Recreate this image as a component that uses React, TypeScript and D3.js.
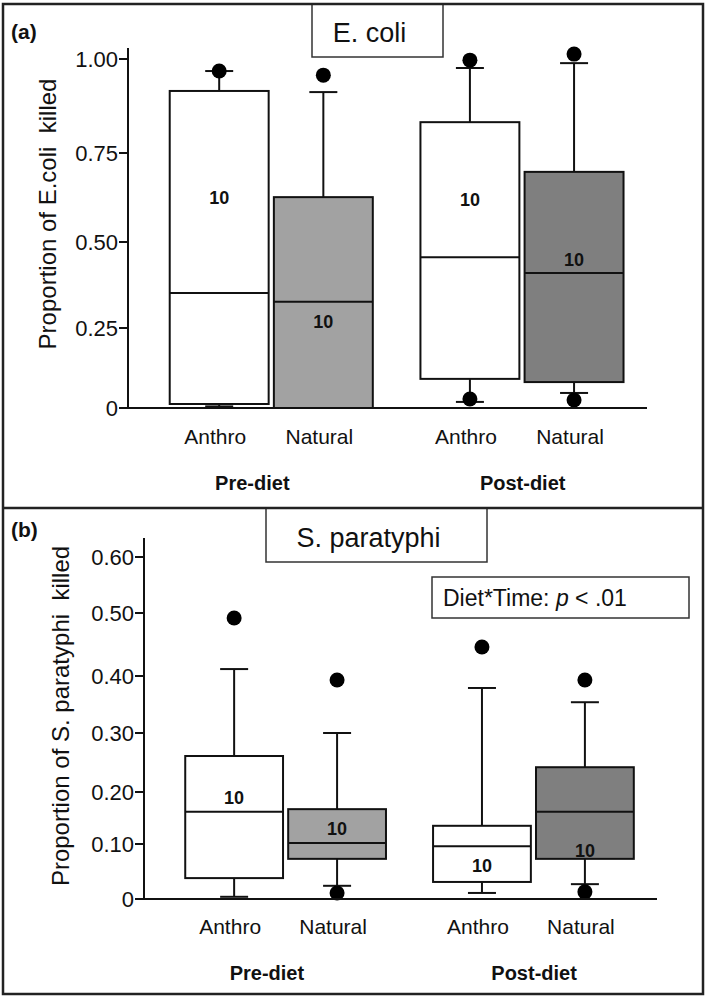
import React from "react";
import * as d3 from "d3";

// ---------- data ----------
const groups = ["Pre-diet", "Post-diet"];
const diets = ["Anthro", "Natural"];
// order of boxes: Pre-Anthro, Pre-Natural, Post-Anthro, Post-Natural

// (a) E. coli
const ecoliTicks = [0, 0.25, 0.5, 0.75, 1.0];
const ecoliTickLabels = ["0", "0.25", "0.50", "0.75", "1.00"];
const ecoliWhiskerLow = [0.005, 0, 0.019, 0.047];
const ecoliQ1 = [0.0125, 0, 0.091, 0.081];
const ecoliMedian = [0.352, 0.326, 0.456, 0.41];
const ecoliQ3 = [0.915, 0.626, 0.832, 0.697];
const ecoliWhiskerHigh = [0.968, 0.912, 0.976, 0.989];
const ecoliOutliers = [[0.968], [0.957], [0.997, 0.028], [1.013, 0.025]];
const ecoliN = [10, 10, 10, 10];
const ecoliNAt = [0.625, 0.27, 0.62, 0.45];

// (b) S. paratyphi
const paraTicks = [0, 0.1, 0.2, 0.3, 0.4, 0.5, 0.6];
const paraTickLabels = ["0", "0.10", "0.20", "0.30", "0.40", "0.50", "0.60"];
const paraWhiskerLow = [0.004, 0.024, 0.011, 0.027];
const paraQ1 = [0.038, 0.073, 0.031, 0.073];
const paraMedian = [0.162, 0.102, 0.096, 0.162];
const paraQ3 = [0.261, 0.167, 0.135, 0.242];
const paraWhiskerHigh = [0.411, 0.3, 0.379, 0.354];
const paraOutliers = [[0.492], [0.393, 0.011], [0.446], [0.393, 0.013]];
const paraN = [10, 10, 10, 10];
const paraNAt = [0.19, 0.129, 0.06, 0.089];

const boxFills = ["#ffffff", "#a2a2a2", "#ffffff", "#7f7f7f"];

const FONT = "'Liberation Sans', Arial, Helvetica, sans-serif";

type PanelProps = {
  letter: string;
  title: string;
  titleBox: [number, number, number, number];
  yTitle: string;
  yTitleX: number;
  yTitleCY: number;
  ticks: number[];
  tickLabels: string[];
  tickPx: number[];
  axisX: number;
  axisRight: number;
  axisTop: number;
  wLow: number[];
  q1: number[];
  med: number[];
  q3: number[];
  wHigh: number[];
  outliers: number[][];
  n: number[];
  nAt: number[];
  letterY: number;
  catY: number;
  groupY: number;
};

function Panel(p: PanelProps) {
  const y = d3.scaleLinear().domain(p.ticks).range(p.tickPx);
  const baseY = y(0);
  const outer = d3
    .scaleBand<string>()
    .domain(groups)
    .range([p.axisX, p.axisRight])
    .paddingInner(0.19)
    .paddingOuter(0.13)
    .align(0.64);
  const inner = d3
    .scaleBand<string>()
    .domain(diets)
    .range([0, outer.bandwidth()])
    .paddingInner(0.05);
  const groupLabelX = d3
    .scalePoint<string>()
    .domain(groups)
    .range([p.axisX, p.axisRight])
    .padding(0.46);
  const boxes: { x: number; w: number; cx: number; i: number; g: string; d: string }[] = [];
  groups.forEach((g, gi) =>
    diets.forEach((d, di) => {
      const i = gi * 2 + di;
      const x = (outer(g) as number) + (inner(d) as number);
      const w = inner.bandwidth();
      boxes.push({ x, w, cx: x + w / 2, i, g, d });
    })
  );
  const capW = 28;
  const [tx0, ty0, tx1, ty1] = p.titleBox;
  return (
    <g fontFamily={FONT}>
      <text x={11} y={p.letterY} fontSize={21} fontWeight="bold" fill="#111">
        {p.letter}
      </text>
      <rect x={tx0} y={ty0} width={tx1 - tx0} height={ty1 - ty0} fill="#fff" stroke="#333" strokeWidth={1.5} />
      <text x={(tx0 + tx1) / 2 - 8} y={ty1 - 15} fontSize={27} textAnchor="middle" fill="#111">
        {p.title}
      </text>
      <text
        transform={`translate(${p.yTitleX},${p.yTitleCY}) rotate(-90)`}
        fontSize={24}
        textAnchor="middle"
        fill="#111"
        style={{ whiteSpace: "pre" }}
      >
        {p.yTitle}
      </text>
      {/* y axis */}
      <line x1={p.axisX} x2={p.axisX} y1={p.axisTop} y2={baseY} stroke="#111" strokeWidth={2} />
      {p.ticks.map((t, k) => (
        <g key={k}>
          <line x1={p.axisX - 9} x2={p.axisX} y1={y(t)} y2={y(t)} stroke="#111" strokeWidth={2} />
          <text x={p.axisX - 10} y={y(t)} dy="0.36em" fontSize={22} textAnchor="end" fill="#111">
            {p.tickLabels[k]}
          </text>
        </g>
      ))}
      {/* boxes */}
      {boxes.map((b) => (
        <g key={b.i}>
          <line x1={b.cx} x2={b.cx} y1={y(p.q3[b.i])} y2={y(p.wHigh[b.i])} stroke="#111" strokeWidth={2} />
          <line x1={b.cx - capW / 2} x2={b.cx + capW / 2} y1={y(p.wHigh[b.i])} y2={y(p.wHigh[b.i])} stroke="#111" strokeWidth={2} />
          <line x1={b.cx} x2={b.cx} y1={y(p.q1[b.i])} y2={y(p.wLow[b.i])} stroke="#111" strokeWidth={2} />
          <line x1={b.cx - capW / 2} x2={b.cx + capW / 2} y1={y(p.wLow[b.i])} y2={y(p.wLow[b.i])} stroke="#111" strokeWidth={2} />
          <rect
            x={b.x}
            y={y(p.q3[b.i])}
            width={b.w}
            height={y(p.q1[b.i]) - y(p.q3[b.i])}
            fill={boxFills[b.i]}
            stroke="#111"
            strokeWidth={2}
          />
          <line x1={b.x} x2={b.x + b.w} y1={y(p.med[b.i])} y2={y(p.med[b.i])} stroke="#111" strokeWidth={2} />
          {p.outliers[b.i].map((o, k) => (
            <circle key={k} cx={b.cx} cy={y(o)} r={7.5} fill="#000" />
          ))}
          <text x={b.cx} y={y(p.nAt[b.i])} dy="0.36em" fontSize={18} fontWeight="bold" textAnchor="middle" fill="#111">
            {p.n[b.i]}
          </text>
          <text x={b.cx - 4} y={p.catY} fontSize={21} textAnchor="middle" fill="#111">
            {b.d}
          </text>
        </g>
      ))}
      {/* x axis */}
      <line x1={p.axisX} x2={p.axisRight} y1={baseY} y2={baseY} stroke="#111" strokeWidth={2} />
      {groups.map((g) => (
        <text
          key={g}
          x={groupLabelX(g) as number}
          y={p.groupY}
          fontSize={20}
          fontWeight="bold"
          textAnchor="middle"
          fill="#111"
        >
          {g}
        </text>
      ))}
    </g>
  );
}

export default function App() {
  return (
    <svg
      width={709}
      height={998}
      style={{ position: "absolute", left: 0, top: 0, background: "#fff" }}
    >
      <rect x={0} y={0} width={709} height={998} fill="#fff" />
      <Panel
        letter="(a)"
        title="E. coli"
        titleBox={[312, 4, 443, 57]}
        yTitle="Proportion of E.coli  killed"
        yTitleX={56}
        yTitleCY={214}
        ticks={ecoliTicks}
        tickLabels={ecoliTickLabels}
        tickPx={[408, 328, 242, 153, 59]}
        axisX={128}
        axisRight={647}
        axisTop={48}
        wLow={ecoliWhiskerLow}
        q1={ecoliQ1}
        med={ecoliMedian}
        q3={ecoliQ3}
        wHigh={ecoliWhiskerHigh}
        outliers={ecoliOutliers}
        n={ecoliN}
        nAt={ecoliNAt}
        letterY={39}
        catY={444}
        groupY={490}
      />
      <Panel
        letter="(b)"
        title="S. paratyphi"
        titleBox={[266, 508, 487, 562]}
        yTitle="Proportion of S. paratyphi  killed"
        yTitleX={69}
        yTitleCY={716}
        ticks={paraTicks}
        tickLabels={paraTickLabels}
        tickPx={[899, 844, 792, 733, 676, 613, 557]}
        axisX={144}
        axisRight={657}
        axisTop={538}
        wLow={paraWhiskerLow}
        q1={paraQ1}
        med={paraMedian}
        q3={paraQ3}
        wHigh={paraWhiskerHigh}
        outliers={paraOutliers}
        n={paraN}
        nAt={paraNAt}
        letterY={537}
        catY={934}
        groupY={980}
      />
      <g fontFamily={FONT}>
        <rect x={432} y={577} width={257} height={41} fill="#fff" stroke="#333" strokeWidth={1.5} />
        <text x={443} y={606} fontSize={23} fill="#111">
          Diet*Time:{" "}
          <tspan fontStyle="italic">p</tspan> {"< .01"}
        </text>
      </g>
      {/* frame */}
      <rect x={3} y={4} width={700} height={990} fill="none" stroke="#222" strokeWidth={2.5} />
      <line x1={3} x2={703} y1={508} y2={508} stroke="#222" strokeWidth={2.5} />
    </svg>
  );
}
